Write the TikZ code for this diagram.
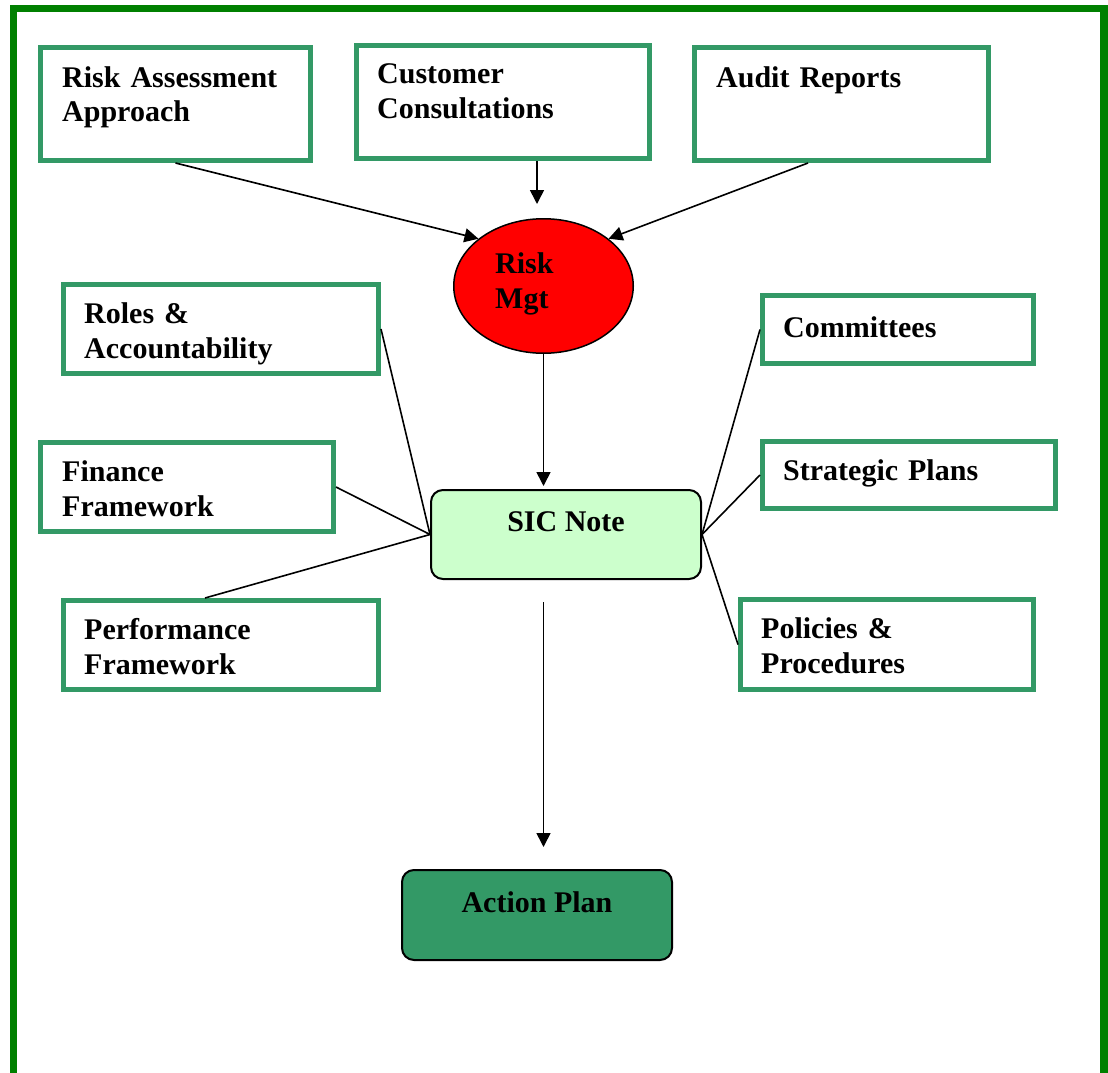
\documentclass[tikz,border=0pt]{standalone}
\usepackage{fontspec}
\setmainfont{Liberation Serif}
\usetikzlibrary{arrows.meta,shapes.geometric}

\definecolor{framegreen}{HTML}{008000}
\definecolor{boxgreen}{HTML}{339966}
\definecolor{notegreen}{HTML}{CCFFCC}
\definecolor{riskred}{HTML}{FF0000}

\tikzset{
  inbox/.style={draw=boxgreen, line width=5pt, rectangle, inner sep=0pt},
  boxtext/.style={anchor=base west, inner sep=0pt, text width=320pt, align=left,
    font=\bfseries\fontsize{30}{35}\selectfont},
  midtext/.style={anchor=base, inner sep=0pt,
    font=\bfseries\fontsize{30}{35}\selectfont},
  arrowline/.style={line width=1.6pt, -{Triangle[length=14pt,width=14pt]}},
  plainline/.style={line width=1.6pt},
}

\begin{document}
\begin{tikzpicture}[x=1pt,y=-1pt]
\useasboundingbox (0,0) rectangle (1108,1073);

% outer frame, open at the bottom
\draw[framegreen, line width=7.5pt, line join=miter]
  (13.5,1073) -- (13.5,8.5) -- (1104,8.5) -- (1104,1073);

% input boxes, top row
\node[inbox, minimum width=270pt, minimum height=113pt] (ra) at (175.5,104) {};
\node[inbox, minimum width=293pt, minimum height=113pt] (cc) at (503,102) {};
\node[inbox, minimum width=294pt, minimum height=113pt] (ar) at (841.5,104) {};

% input boxes, left column
\node[inbox, minimum width=315pt, minimum height=89pt] (ro) at (221,329) {};
\node[inbox, minimum width=293pt, minimum height=89pt] (fi) at (187,487) {};
\node[inbox, minimum width=315pt, minimum height=89pt] (pf) at (221,645) {};

% input boxes, right column
\node[inbox, minimum width=271pt, minimum height=68pt] (cm) at (898,329.5) {};
\node[inbox, minimum width=293pt, minimum height=67pt] (sp) at (909,475) {};
\node[inbox, minimum width=293pt, minimum height=90pt] (po) at (887,644.5) {};

% central shapes
\node[ellipse, draw=black, line width=1.5pt, fill=riskred, inner sep=0pt,
  minimum width=179.5pt, minimum height=134.5pt] (rm) at (543.5,286) {};
\node[rectangle, rounded corners=12pt, draw=black, line width=2pt, fill=notegreen,
  minimum width=270pt, minimum height=89pt] (sic) at (566,534.5) {};
\node[rectangle, rounded corners=12pt, draw=black, line width=2pt, fill=boxgreen,
  minimum width=270pt, minimum height=90pt] (ap) at (537,915) {};

% labels
\node[boxtext] (ra-t) at (62,87) {Risk Assessment\\Approach};
\node[boxtext] (cc-t) at (377,84) {Customer\\Consultations};
\node[boxtext] (ar-t) at (716,87) {Audit Reports};
\node[boxtext] (ro-t) at (84,323) {Roles \&\\Accountability};
\node[boxtext] (fi-t) at (62,481) {Finance\\Framework};
\node[boxtext] (pf-t) at (84,639) {Performance\\Framework};
\node[boxtext] (cm-t) at (783,337) {Committees};
\node[boxtext] (sp-t) at (783,480) {Strategic Plans};
\node[boxtext] (po-t) at (761,638) {Policies \&\\Procedures};
\node[boxtext] (rm-t) at (495,273) {Risk\\Mgt};
\node[midtext] (sic-t) at (566,531) {SIC Note};
\node[midtext] (ap-t) at (537,912) {Action Plan};

% free ends of the vertical arrows
\coordinate (cc-end) at (537,204);
\coordinate (rm-end) at (543.5,486);
\coordinate (sic-start) at (543.5,602);
\coordinate (ap-end) at (543.5,847);

% arrows into risk management
\draw[arrowline] (ra.south) -- (rm.144);
\draw[arrowline] ([xshift=34pt]cc.south) -- (cc-end);
\draw[arrowline] ([xshift=-33.5pt]ar.south) -- (rm.36);

% risk management to SIC note to action plan
\draw[arrowline] (rm.south) -- (rm-end);
\draw[arrowline] (sic-start) -- (ap-end);

% supporting inputs joined to the SIC note
\draw[plainline] (ro.east) -- (sic.west);
\draw[plainline] (fi.east) -- (sic.west);
\draw[plainline] ([xshift=-16pt]pf.north) -- (sic.west);
\draw[plainline] (cm.west) -- (sic.east);
\draw[plainline] (sp.west) -- (sic.east);
\draw[plainline] (po.west) -- (sic.east);
\end{tikzpicture}
\end{document}
